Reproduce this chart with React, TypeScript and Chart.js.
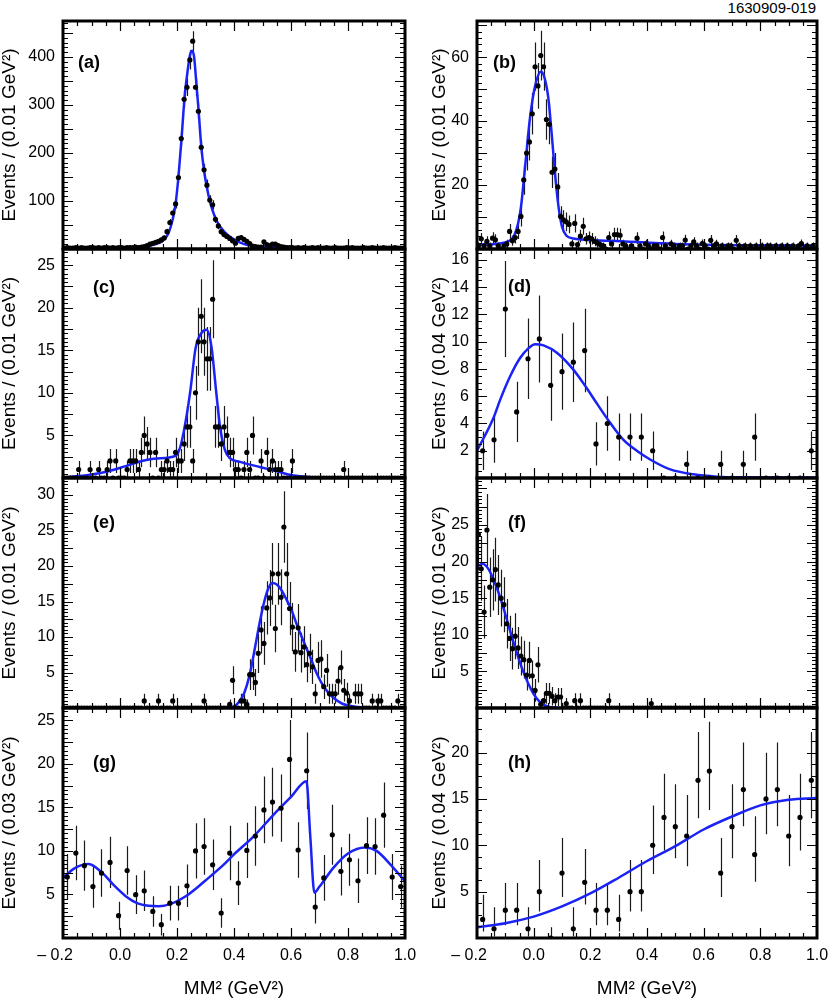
import React, { useEffect, useRef } from 'react';
import { Chart, registerables } from 'chart.js';

Chart.register(...registerables);

const FONT = "'Liberation Sans', Arial, Helvetica, sans-serif";
Chart.defaults.font.family = FONT;
Chart.defaults.color = '#000';

const PAGE_W = 830;
const PAGE_H = 999;
const BLUE = '#1a22f4';

// ---------- shared x axis ----------
const X_MIN = -0.2;
const X_MAX = 1.0;
const xTickValues = [-0.2, 0, 0.2, 0.4, 0.6, 0.8, 1.0];

// ---------- (a) 0.01 GeV^2 bins ----------
const aCounts = [
  2, 3, 2, 2, 3, 2, 3, 2, 2, 3,
  3, 2, 3, 2, 3, 3, 2, 3, 2, 3,
  3, 2, 3, 3, 3, 4, 3, 4, 5, 7,
  10, 12, 14, 16, 19, 23, 36, 55, 75, 94,
  149, 230, 312, 337, 394, 433, 337, 287, 212, 165,
  133, 102, 92, 62, 48, 36, 30, 26, 22, 17,
  12, 22, 24, 20, 16, 11, 6, 5, 4, 4,
  15, 9, 7, 10, 10, 7, 5, 4, 3, 3,
  3, 2, 3, 2, 3, 2, 2, 3, 2, 3,
  2, 2, 3, 2, 2, 3, 2, 2, 2, 3,
  2, 3, 2, 2, 2, 3, 2, 2, 3, 2,
  2, 2, 3, 2, 2, 2, 3, 2, 2, 2,
];
const aFitX = [-0.2, 0.0, 0.08, 0.12, 0.15, 0.17, 0.185, 0.195, 0.205, 0.216, 0.226, 0.237, 0.246, 0.253, 0.26, 0.268, 0.276, 0.285, 0.295, 0.305, 0.315, 0.325, 0.338, 0.36, 0.38, 0.4, 0.42, 0.45, 0.5, 0.6, 0.8, 1.0];
const aFitY = [2, 2.5, 4, 9, 17, 33, 62, 94, 150, 230, 312, 370, 405, 413, 400, 345, 287, 215, 163, 128, 100, 80, 60, 40, 28, 20, 14, 8, 4, 3, 2.5, 2];
const aYTicks = [100, 200, 300, 400];

// ---------- (b) ----------
const bCounts = [
  1, 3.2, 1, 2.4, 1, 3.4, 2.9, 1, 0, 1,
  1.6, 5.5, 2.6, 3.6, 5.5, 10.2, 21.6, 30, 33.5, 42.3,
  57, 51, 60.5, 57, 40.5, 39, 24, 25, 19.4, 10.2,
  9.1, 8.5, 7.7, 1.6, 8.0, 1.4, 4.0, 7.1, 3.2, 3.6,
  3.2, 2.4, 1.9, 1.4, 1, 0, 3.6, 1.6, 4.5, 4.5,
  4.3, 1.6, 1, 0, 1, 0, 3.4, 1, 0, 1.6,
  1, 0, 1, 1, 0, 3.6, 1, 0, 1.6, 1,
  0, 1, 1, 2.8, 0, 1, 2.2, 1, 0, 1.7,
  1, 0, 2.7, 1, 1.6, 0, 1, 0, 1, 1,
  0, 2.7, 1, 0, 1, 0, 1, 0, 1, 0,
  1, 0, 1, 1, 0, 1, 0, 1, 0, 1,
  0, 1, 0, 1, 1.7, 0, 1, 0, 1, 0,
];
const bFitX = [-0.2, -0.12, -0.09, -0.07, -0.055, -0.045, -0.03, -0.013, 0.005, 0.026, 0.04, 0.052, 0.064, 0.076, 0.088, 0.1, 0.115, 0.14, 0.27, 0.5, 0.74, 1.0];
const bFitY = [1.3, 1.7, 2.4, 4, 8, 13, 26, 41, 51, 55.5, 53, 47, 35.6, 23, 13, 7, 4.2, 3.3, 2.6, 1.6, 1.2, 1.1];
const bYTicks = [20, 40, 60];

// ---------- (c) ----------
const cCounts = [
  0, 0, 0, 0, 0, 1, 0, 0, 0, 1,
  0, 0, 1, 0, 0, 1, 2, 0, 2, 0,
  0, 0, 1, 2, 2, 2, 1, 3, 5, 4,
  3, 0, 3, 0, 1, 1, 2, 1, 1, 3,
  2, 2, 4, 6, 6, 2, 10, 16, 19, 16,
  14, 14, 21, 6, 6, 4, 6, 5, 3, 3,
  1, 1, 0, 1, 3, 1, 5, 0, 0, 2,
  0, 3, 1, 2, 1, 1, 1, 0, 0, 0,
  2, 0, 0, 0, 0, 0, 0, 0, 0, 0,
  0, 0, 0, 0, 0, 0, 0, 0, 1, 0,
  0, 0, 0, 0, 0, 0, 0, 0, 0, 0,
  0, 0, 0, 0, 0, 0, 0, 0, 0, 0,
];
const cFitX = [-0.2, -0.15, -0.1, -0.04, 0.02, 0.077, 0.13, 0.195, 0.212, 0.229, 0.247, 0.265, 0.285, 0.304, 0.321, 0.337, 0.351, 0.368, 0.386, 0.421, 0.49, 0.55, 0.6, 0.65, 0.7, 1.0];
const cFitY = [0.1, 0.2, 0.4, 0.8, 1.4, 2.0, 2.3, 2.6, 3.7, 6.4, 10.3, 15.2, 17.0, 17.4, 15.4, 10.3, 6.0, 3.3, 2.3, 1.9, 1.3, 0.8, 0.35, 0.15, 0.05, 0.05];
const cYTicks = [5, 10, 15, 20, 25];

// ---------- (d) 0.04 GeV^2 bins ----------
const dCounts = [2.0, 2.8, 12.4, 4.85, 8.75, 10.2, 6.8, 7.8, 8.5, 9.35, 2.5, 4.0, 3.0, 3.0, 3.0, 2.0, 0, 0, 1, 0, 0, 1, 0, 1, 3, 0, 0, 0, 0, 2];
const dFitX = [-0.2, -0.142, -0.118, -0.083, -0.048, -0.018, 0.005, 0.035, 0.083, 0.14, 0.187, 0.222, 0.27, 0.317, 0.364, 0.411, 0.482, 0.564, 0.647, 0.741, 1.0];
const dFitY = [2.0, 4.4, 5.75, 7.46, 8.8, 9.53, 9.82, 9.73, 9.17, 7.95, 6.6, 5.5, 4.05, 2.8, 2.0, 1.36, 0.63, 0.27, 0.1, 0.05, 0.03];
const dYTicks = [2, 4, 6, 8, 10, 12, 14, 16];

// ---------- (e) ----------
const eCounts = [
  0, 0, 0, 0, 0, 0, 0, 0, 0, 0,
  0, 0, 0, 0, 0, 0, 0, 0, 0, 0,
  0, 0, 0, 0, 0, 0, 0, 0, 1, 0,
  0, 0, 0, 1, 0, 0, 0, 0, 1, 0,
  0, 0, 0, 0, 0, 0, 0, 0, 0, 1,
  0, 0, 0, 0, 0, 0, 0, 0, 0.5, 3.9,
  0, 0, 1, 1, 0.5, 4.7, 4.7, 3.6, 7.7, 11,
  9.1, 14.1, 15.5, 18.9, 11.2, 18.9, 15.6, 25.5, 18.9, 14,
  11.4, 7.9, 11.3, 7.8, 8.6, 6.1, 7.7, 5.8, 2, 6.7,
  6.9, 3, 5.3, 2, 2, 2, 3.8, 5.7, 2.5, 2.1,
  1, 0, 2, 2, 2, 0, 0, 0, 1, 0,
  1, 1, 0, 0, 0, 0, 0, 1, 0, 0,
];
const eFitX = [-0.2, 0.36, 0.39, 0.41, 0.43, 0.445, 0.46, 0.475, 0.49, 0.505, 0.52, 0.535, 0.55, 0.565, 0.58, 0.6, 0.62, 0.645, 0.67, 0.69, 0.72, 0.75, 0.78, 0.82, 0.86, 0.9, 1.0];
const eFitY = [0, 0, 0.1, 0.5, 1.6, 3.2, 5.6, 8.8, 12.0, 14.8, 16.8, 17.6, 17.4, 16.7, 15.6, 14.0, 11.8, 9.3, 6.9, 4.9, 2.7, 1.4, 0.6, 0.2, 0.05, 0, 0];
const eYTicks = [5, 10, 15, 20, 25, 30];

// ---------- (f) ----------
const fCounts = [
  23.7, 19.0, 13.1, 24.3, 16.5, 17.5, 18.9, 16.8, 15, 14.1,
  11.5, 9.5, 8.1, 9.8, 8.2, 7.1, 6.6, 4.5, 6.5, 4.4,
  2.4, 5.9, 0.5, 1, 2, 2, 1.6, 1, 1.5, 1.5,
  0, 0.6, 0, 0, 1, 0, 1, 0, 0, 0,
  0, 0, 0, 0, 0, 0, 1, 0, 0, 0,
  0, 0, 0, 0, 0, 0, 0, 0, 0, 0,
  0, 0.6, 0, 0, 0, 0, 0, 0, 0, 0,
  0, 0, 0, 0, 0, 0, 0, 0, 0, 0,
  0, 0, 0, 0, 0, 0, 0, 0, 0, 0,
  0, 0, 0, 0, 0, 0, 0, 0, 0, 0,
  0, 0, 0, 0, 0, 0, 0, 0, 0, 0,
  0, 0, 0, 0, 0, 0, 0, 0, 0, 0,
];
const fFitX = [-0.2, -0.18, -0.16, -0.14, -0.12, -0.1, -0.08, -0.06, -0.04, -0.02, 0.0, 0.02, 0.04, 0.06, 0.1, 1.0];
const fFitY = [19.3, 19.7, 19.0, 17.4, 15.3, 12.8, 10.1, 7.6, 5.3, 3.4, 1.9, 0.9, 0.35, 0.1, 0, 0];
const fYTicks = [5, 10, 15, 20, 25];

// ---------- (g) 0.03 GeV^2 bins ----------
const gCounts = [7.0, 9.75, 8.3, 5.9, 7.45, 8.67, 2.56, 7.75, 4.97, 5.42, 3.05, 1.53, 4.0, 4.0, 6.0, 10.0, 10.5, 8.4, 2.87, 9.75, 6.3, 10.05, 11.7, 14.7, 15.6, 14.9, 20.5, 10.1, 19.2, 3.55, 6.9, 11.85, 7.65, 8.98, 6.57, 10.6, 10.5, 14.1, 7.0, 5.9];
const gFitX = [-0.2, -0.16, -0.11, -0.06, -0.02, 0.02, 0.06, 0.1, 0.136, 0.18, 0.24, 0.3, 0.36, 0.4, 0.47, 0.54, 0.6, 0.654, 0.668, 0.682, 0.7, 0.75, 0.8, 0.86, 0.9, 0.95, 1.0];
const gFitY = [6.9, 8.0, 8.5, 7.4, 6.0, 4.8, 4.0, 3.7, 3.65, 3.95, 5.0, 6.6, 8.3, 9.6, 11.7, 14.2, 16.2, 18.0, 11.5, 5.2, 5.9, 8.1, 9.7, 10.4, 10.0, 8.4, 6.5];
const gYTicks = [5, 10, 15, 20, 25];

// ---------- (h) 0.04 GeV^2 bins ----------
const hCounts = [2, 1, 3, 3, 1, 5, 0, 7, 1, 6, 3, 3, 2, 5, 5, 10, 13, 12, 11, 17, 18, 7, 12, 16, 9, 15, 16, 11, 13, 17];
const hFitX = [-0.2, -0.1, 0.0, 0.1, 0.2, 0.3, 0.4, 0.5, 0.6, 0.7, 0.8, 0.9, 1.0];
const hFitY = [1.15, 1.6, 2.3, 3.4, 4.8, 6.5, 8.3, 9.9, 11.7, 13.1, 14.3, 14.9, 15.1];
const hYTicks = [5, 10, 15, 20];

// ---------- layout ----------
const COLS = [
  { canvasLeft: 0, canvasWidth: 420, frameLeft: 63, frameRight: 405 },
  { canvasLeft: 430, canvasWidth: 400, frameLeft: 477, frameRight: 817 },
];
const ROW_TOPS = [21, 249, 478, 708];
const ROW_BOTTOMS = [249, 478, 708, 938];

type ErrKind = 'sqrt' | 'poisson';
type PanelDef = {
  label: string; col: number; row: number;
  counts: number[]; binW: number; binText: string;
  fitX: number[]; fitY: number[];
  yMax: number; yTicks: number[]; yMajor: number; yMinor: number;
  err: ErrKind; labelDx: number; labelDy: number;
};

const PANELS: PanelDef[] = [
  { label: '(a)', col: 0, row: 0, counts: aCounts, binW: 0.01, binText: '0.01', fitX: aFitX, fitY: aFitY, yMax: 475, yTicks: aYTicks, yMajor: 50, yMinor: 10, err: 'sqrt', labelDx: 15, labelDy: 42 },
  { label: '(b)', col: 1, row: 0, counts: bCounts, binW: 0.01, binText: '0.01', fitX: bFitX, fitY: bFitY, yMax: 71.3, yTicks: bYTicks, yMajor: 10, yMinor: 2, err: 'sqrt', labelDx: 16, labelDy: 42 },
  { label: '(c)', col: 0, row: 1, counts: cCounts, binW: 0.01, binText: '0.01', fitX: cFitX, fitY: cFitY, yMax: 26.9, yTicks: cYTicks, yMajor: 2.5, yMinor: 0.5, err: 'sqrt', labelDx: 30, labelDy: 39 },
  { label: '(d)', col: 1, row: 1, counts: dCounts, binW: 0.04, binText: '0.04', fitX: dFitX, fitY: dFitY, yMax: 16.8, yTicks: dYTicks, yMajor: 2, yMinor: 0.5, err: 'sqrt', labelDx: 31, labelDy: 38 },
  { label: '(e)', col: 0, row: 2, counts: eCounts, binW: 0.01, binText: '0.01', fitX: eFitX, fitY: eFitY, yMax: 32.4, yTicks: eYTicks, yMajor: 2.5, yMinor: 0.5, err: 'sqrt', labelDx: 30, labelDy: 45 },
  { label: '(f)', col: 1, row: 2, counts: fCounts, binW: 0.01, binText: '0.01', fitX: fFitX, fitY: fFitY, yMax: 31.4, yTicks: fYTicks, yMajor: 2.5, yMinor: 0.5, err: 'sqrt', labelDx: 31, labelDy: 45 },
  { label: '(g)', col: 0, row: 3, counts: gCounts, binW: 0.03, binText: '0.03', fitX: gFitX, fitY: gFitY, yMax: 26.4, yTicks: gYTicks, yMajor: 2.5, yMinor: 0.5, err: 'sqrt', labelDx: 30, labelDy: 55 },
  { label: '(h)', col: 1, row: 3, counts: hCounts, binW: 0.04, binText: '0.04', fitX: hFitX, fitY: hFitY, yMax: 24.8, yTicks: hYTicks, yMajor: 5, yMinor: 1.25, err: 'poisson', labelDx: 31, labelDy: 55 },
];

const X_MAJOR = 0.2;
const X_MINOR = 0.05;

function errorsFor(v: number, kind: ErrKind): [number, number] {
  if (kind === 'poisson') {
    if (v <= 0) return [0, 1.148];
    const lo = v - v * Math.pow(1 - 1 / (9 * v) - 1 / (3 * Math.sqrt(v)), 3);
    const hi = Math.sqrt(v + 0.75) + 1;
    return [lo, hi];
  }
  if (v <= 0) return [0, 0];
  return [Math.sqrt(v), Math.sqrt(v)];
}

function fmtX(v: number): string {
  if (Math.abs(v) < 1e-9) return '0.0';
  // trailing spaces keep the digits centred on the tick, as in the original
  if (v < 0) return '\u2013 ' + Math.abs(v).toFixed(1) + '\u2002\u2002';
  return v.toFixed(1);
}

function makePlugin(def: PanelDef, xs: number[], errs: [number, number][]) {
  return {
    id: 'panelDeco' + def.label,
    beforeDatasetsDraw(chart: any) {
      const { ctx, chartArea: ca } = chart;
      const x = chart.scales.x;
      const y = chart.scales.y;
      ctx.save();
      ctx.beginPath();
      ctx.rect(ca.left, ca.top, ca.right - ca.left, ca.bottom - ca.top);
      ctx.clip();
      ctx.strokeStyle = '#1a1a1a';
      ctx.lineWidth = 1.2;
      ctx.beginPath();
      for (let i = 0; i < xs.length; i++) {
        const [lo, hi] = errs[i];
        if (lo === 0 && hi === 0) continue;
        const v = def.counts[i];
        const px = Math.round(x.getPixelForValue(xs[i])) + 0.5;
        ctx.moveTo(px, y.getPixelForValue(Math.max(v - lo, 0)));
        ctx.lineTo(px, y.getPixelForValue(v + hi));
      }
      ctx.stroke();
      ctx.restore();
    },
    afterDraw(chart: any) {
      const { ctx, chartArea: ca } = chart;
      const x = chart.scales.x;
      const y = chart.scales.y;
      ctx.save();
      ctx.strokeStyle = '#000';
      ctx.lineWidth = 1.2;
      ctx.beginPath();
      // y ticks (left and right, inward)
      const n1 = Math.floor(def.yMax / def.yMinor + 1e-9);
      for (let n = 1; n <= n1; n++) {
        const v = n * def.yMinor;
        const r = v / def.yMajor;
        const major = Math.abs(r - Math.round(r)) < 1e-6;
        const len = major ? 10 : 5;
        const py = Math.round(y.getPixelForValue(v)) + 0.5;
        ctx.moveTo(ca.left, py); ctx.lineTo(ca.left + len, py);
        ctx.moveTo(ca.right, py); ctx.lineTo(ca.right - len, py);
      }
      // x ticks (bottom and top, inward)
      const m0 = Math.round(X_MIN / X_MINOR);
      const m1 = Math.round(X_MAX / X_MINOR);
      for (let m = m0 + 1; m < m1; m++) {
        const v = m * X_MINOR;
        const r = v / X_MAJOR;
        const major = Math.abs(r - Math.round(r)) < 1e-6;
        const len = major ? 10 : 5;
        const px = Math.round(x.getPixelForValue(v)) + 0.5;
        ctx.moveTo(px, ca.bottom); ctx.lineTo(px, ca.bottom - len);
        ctx.moveTo(px, ca.top); ctx.lineTo(px, ca.top + len);
      }
      ctx.stroke();
      // frame
      ctx.lineWidth = 3;
      ctx.strokeRect(ca.left, ca.top, ca.right - ca.left, ca.bottom - ca.top);
      // panel label
      ctx.fillStyle = '#000';
      ctx.font = `bold 18px ${FONT}`;
      ctx.textBaseline = 'middle';
      ctx.textAlign = 'left';
      ctx.fillText(def.label, ca.left + def.labelDx, ca.top + def.labelDy);
      ctx.restore();
    },
  };
}

function Panel({ def }: { def: PanelDef }) {
  const ref = useRef<HTMLCanvasElement>(null);
  const col = COLS[def.col];
  const rowTop = ROW_TOPS[def.row];
  const rowBottom = ROW_BOTTOMS[def.row];
  const bottomRow = def.row === ROW_TOPS.length - 1;
  const canvasTop = rowTop - 10;
  const canvasH = bottomRow ? PAGE_H - canvasTop : rowBottom - rowTop + 20;
  const axisW = col.frameLeft - col.canvasLeft;
  const padRight = col.canvasLeft + col.canvasWidth - col.frameRight;
  const xAxisH = bottomRow ? PAGE_H - rowBottom : 0;

  useEffect(() => {
    const canvas = ref.current;
    if (!canvas) return;
    const xs = def.counts.map((_, i) => X_MIN + def.binW * (i + 0.5));
    const errs = def.counts.map((v) => errorsFor(v, def.err));
    const pts = def.counts.map((v, i) => ({ x: xs[i], y: v }));
    const fit = def.fitX.map((fx, i) => ({ x: fx, y: def.fitY[i] }));

    const chart = new Chart(canvas, {
      type: 'scatter',
      data: {
        datasets: [
          {
            data: pts,
            showLine: false,
            pointRadius: 2.6,
            pointHoverRadius: 2.6,
            pointBackgroundColor: '#000',
            pointBorderWidth: 0,
            clip: 0,
          } as any,
          {
            data: fit,
            showLine: true,
            borderColor: BLUE,
            borderWidth: 2.5,
            pointRadius: 0,
            pointHoverRadius: 0,
            cubicInterpolationMode: 'monotone',
            fill: false,
            clip: 0,
          } as any,
        ],
      },
      options: {
        responsive: false,
        maintainAspectRatio: false,
        animation: false,
        devicePixelRatio: 1,
        events: [],
        layout: { padding: { left: 0, right: padRight, top: 10, bottom: bottomRow ? 0 : 10 } },
        plugins: { legend: { display: false }, tooltip: { enabled: false }, title: { display: false } },
        scales: {
          x: {
            type: 'linear',
            min: X_MIN,
            max: X_MAX,
            display: bottomRow,
            afterBuildTicks: (s: any) => { s.ticks = xTickValues.map((v) => ({ value: v })); },
            afterFit: (s: any) => { s.height = xAxisH; s.paddingLeft = 0; s.paddingRight = 0; },
            ticks: {
              autoSkip: false, maxRotation: 0, minRotation: 0, padding: 8, color: '#000',
              font: { size: 16, family: FONT },
              callback: (v: any) => fmtX(Number(v)),
            },
            grid: { display: false, drawTicks: false },
            border: { display: false },
            title: {
              display: bottomRow, text: 'MM\u00B2 (GeV\u00B2)', color: '#000',
              font: { size: 19, family: FONT, lineHeight: 1 }, padding: { top: 0, bottom: 1 },
            },
          },
          y: {
            type: 'linear',
            min: 0,
            max: def.yMax,
            afterBuildTicks: (s: any) => { s.ticks = def.yTicks.map((v) => ({ value: v })); },
            afterFit: (s: any) => { s.width = axisW; s.paddingTop = 0; s.paddingBottom = 0; },
            ticks: {
              autoSkip: false, padding: 8, color: '#000',
              font: { size: 16, family: FONT },
              callback: (v: any) => String(v),
            },
            grid: { display: false, drawTicks: false },
            border: { display: false },
            title: {
              display: true, text: `Events / (${def.binText} GeV\u00B2)`, color: '#000',
              font: { size: 19, family: FONT, lineHeight: 1 }, padding: { top: 0.5, bottom: 0 },
            },
          },
        },
      } as any,
      plugins: [makePlugin(def, xs, errs)],
    });
    return () => chart.destroy();
  }, []);

  return (
    <canvas
      ref={ref}
      width={col.canvasWidth}
      height={canvasH}
      style={{ position: 'absolute', left: col.canvasLeft, top: canvasTop, width: col.canvasWidth, height: canvasH }}
    />
  );
}

export default function App() {
  return (
    <div style={{ position: 'absolute', left: 0, top: 0, width: PAGE_W, height: PAGE_H, background: '#fff', overflow: 'hidden' }}>
      <div style={{ position: 'absolute', right: 14, top: 0, fontFamily: FONT, fontSize: 15, lineHeight: '15px', color: '#000' }}>
        1630909-019
      </div>
      {PANELS.map((p) => (
        <Panel key={p.label} def={p} />
      ))}
    </div>
  );
}
